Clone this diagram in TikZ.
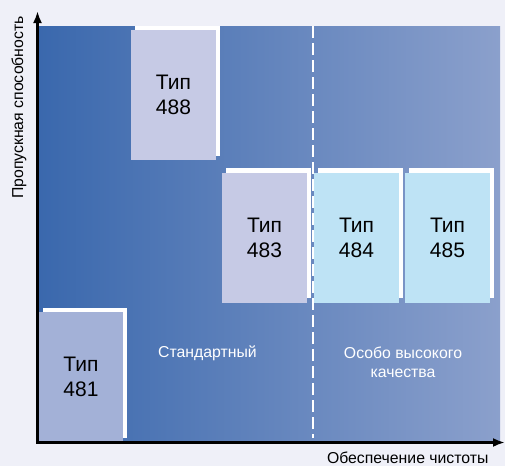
\documentclass[tikz,border=0pt]{standalone}
\usepackage{fontspec}
\setmainfont{Liberation Sans}
\usetikzlibrary{shadows,arrows.meta}
\definecolor{bg}{HTML}{EFF0F8}
\definecolor{gl}{HTML}{3A68AD}
\definecolor{gr}{HTML}{8BA0CC}
\definecolor{lav}{HTML}{C6CAE5}
\definecolor{lav2}{HTML}{A3B1D7}
\definecolor{cyanbox}{HTML}{BEE3F5}
\tikzset{
  typebox/.style={minimum width=85pt,minimum height=130pt,inner sep=0pt,
    font=\fontsize{21}{25}\selectfont,align=center,text=black,
    general shadow={fill=white,shadow xshift=4pt,shadow yshift=4.5pt}},
  zonelabel/.style={text=white,font=\fontsize{15.8}{19}\selectfont,align=center},
  axislabel/.style={text=black,font=\fontsize{15.8}{18}\selectfont},
  axisline/.style={line width=2.5pt,-{Latex[length=12pt,width=9pt]}}
}
\begin{document}
\begin{tikzpicture}[x=1pt,y=-1pt]
\fill[bg] (0,0) rectangle (505,466);
\useasboundingbox (0,0) rectangle (505,466);
\shade[left color=gl,right color=gr] (38,26) rectangle (500,442);
\coordinate (dtop) at (312.5,26);
\coordinate (dbot) at (312.5,438);
\draw[white,line width=2pt,dash pattern=on 12pt off 5pt] (dtop) -- (dbot);
\node[typebox,fill=lav] (t488) at (173.5,95) {Тип\\488};
\node[typebox,fill=lav] (t483) at (264.5,237.5) {Тип\\483};
\node[typebox,fill=cyanbox] (t484) at (356.5,237.5) {Тип\\484};
\node[typebox,fill=cyanbox] (t485) at (447.5,237.5) {Тип\\485};
\node[typebox,fill=lav2,minimum width=84pt] (t481) at (81,377) {Тип\\481};
\node[zonelabel] (std) at (207.5,353) {Стандартный};
\node[zonelabel] (hq) at (403,362) {Особо высокого\\качества};
\coordinate (orig) at (37.5,442.5);
\coordinate (ytip) at (37.5,11);
\coordinate (xtip) at (505,442.5);
\draw[axisline] ([yshift=-1.25pt]orig) -- (ytip);
\draw[axisline] ([xshift=-1.25pt]orig) -- (xtip);
\node[axislabel,anchor=base east] (xl) at (492,463) {Обеспечение чистоты};
\node[axislabel,rotate=90] (yl) at (19,107.5) {Пропускная способность};
\end{tikzpicture}
\end{document}
